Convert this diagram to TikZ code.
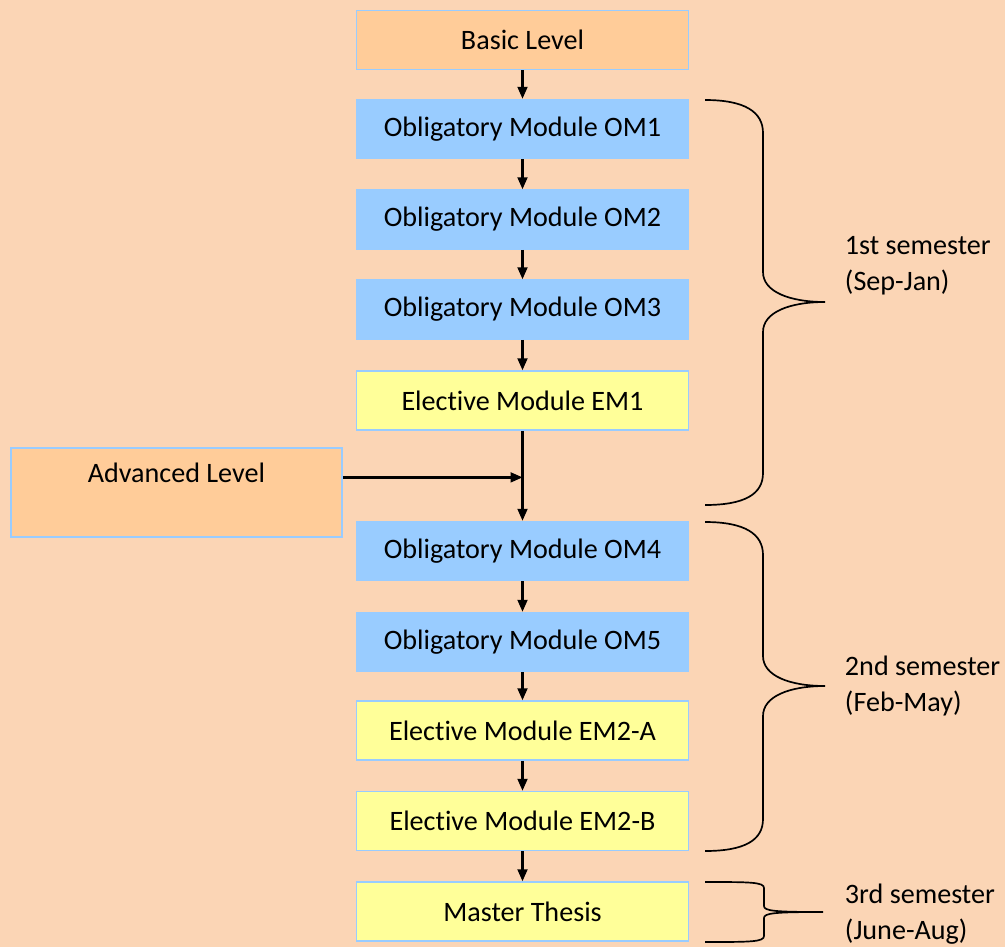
\documentclass[tikz,border=0pt]{standalone}
\usepackage{fontspec}
\setmainfont{Carlito}[Ligatures=NoCommon]
\usetikzlibrary{arrows.meta}
\definecolor{pagebg}{RGB}{251,213,181}
\definecolor{levelfill}{RGB}{255,204,153}
\definecolor{oblfill}{RGB}{153,204,255}
\definecolor{elecfill}{RGB}{255,255,153}
\definecolor{boxline}{RGB}{153,204,255}

\begin{document}
\begin{tikzpicture}[x=0.025cm, y=-0.025cm,
  every node/.style={font=\fontsize{20}{25.5}\selectfont},
  module/.style={draw=boxline, line width=1.2pt, minimum width=8.3cm, minimum height=1.47cm, inner sep=0pt},
  obl/.style={module, fill=oblfill},
  elec/.style={module, fill=elecfill},
  level/.style={module, fill=levelfill},
  flow/.style={line width=1.6pt, -{Triangle[length=8.5pt,width=7pt]}},
  brace/.style={line width=1.2pt}]
\useasboundingbox[fill=pagebg] (0,0) rectangle (1005,947);
% module chain
\node[level] (basic) at (522.5,40) {Basic Level};
\node[obl] (om1) at (522.5,129) {Obligatory Module OM1};
\node[obl] (om2) at (522.5,219.5) {Obligatory Module OM2};
\node[obl] (om3) at (522.5,309.5) {Obligatory Module OM3};
\node[elec] (em1) at (522.5,400.5) {Elective Module EM1};
\node[level, anchor=north west, minimum width=8.275cm, minimum height=0pt,
  text height=0.875cm, text depth=1.35cm] (adv) at (10,447) {Advanced Level};
\node[obl] (om4) at (522.5,551) {Obligatory Module OM4};
\node[obl] (om5) at (522.5,642) {Obligatory Module OM5};
\node[elec] (em2a) at (522.5,730.5) {Elective Module EM2-A};
\node[elec] (em2b) at (522.5,821) {Elective Module EM2-B};
\node[elec] (thesis) at (522.5,911.5) {Master Thesis};
\draw[flow] (basic) -- (om1);
\draw[flow] (om1) -- (om2);
\draw[flow] (om2) -- (om3);
\draw[flow] (om3) -- (em1);
\draw[flow] (em1) -- (om4);
\coordinate (join) at ([yshift=1.5pt]adv.mid east);
\draw[flow] (join) -- (join -| em1.south);
\draw[flow] (om4) -- (om5);
\draw[flow] (om5) -- (em2a);
\draw[flow] (em2a) -- (em2b);
\draw[flow] (em2b) -- (thesis);
% semester braces
\draw[brace] (705,100) .. controls (745,100) and (763,112) .. (763,133)
  -- (763,272) .. controls (763,292) and (790,302) .. (825,302)
  .. controls (790,302) and (763,312) .. (763,332)
  -- (763,473) .. controls (763,494) and (745,505) .. (705,505);
\draw[brace] (705,522) .. controls (745,522) and (763,534) .. (763,555)
  -- (763,656) .. controls (763,676) and (790,686) .. (825,686)
  .. controls (790,686) and (763,696) .. (763,716)
  -- (763,819) .. controls (763,840) and (745,851) .. (705,851);
\draw[brace] (705,882) .. controls (750,882) and (764,882) .. (764,888)
  -- (764,906) .. controls (764,911) and (775,912) .. (823,912)
  .. controls (775,912) and (764,913) .. (764,918)
  -- (764,936) .. controls (764,942) and (750,942) .. (705,942);
\node[anchor=west, align=left] (sem1) at (840,266) {1st semester\\(Sep-Jan)};
\node[anchor=west, align=left] (sem2) at (840,686) {2nd semester\\(Feb-May)};
\node[anchor=west, align=left] (sem3) at (840,914) {3rd semester\\(June-Aug)};
\end{tikzpicture}
\end{document}
